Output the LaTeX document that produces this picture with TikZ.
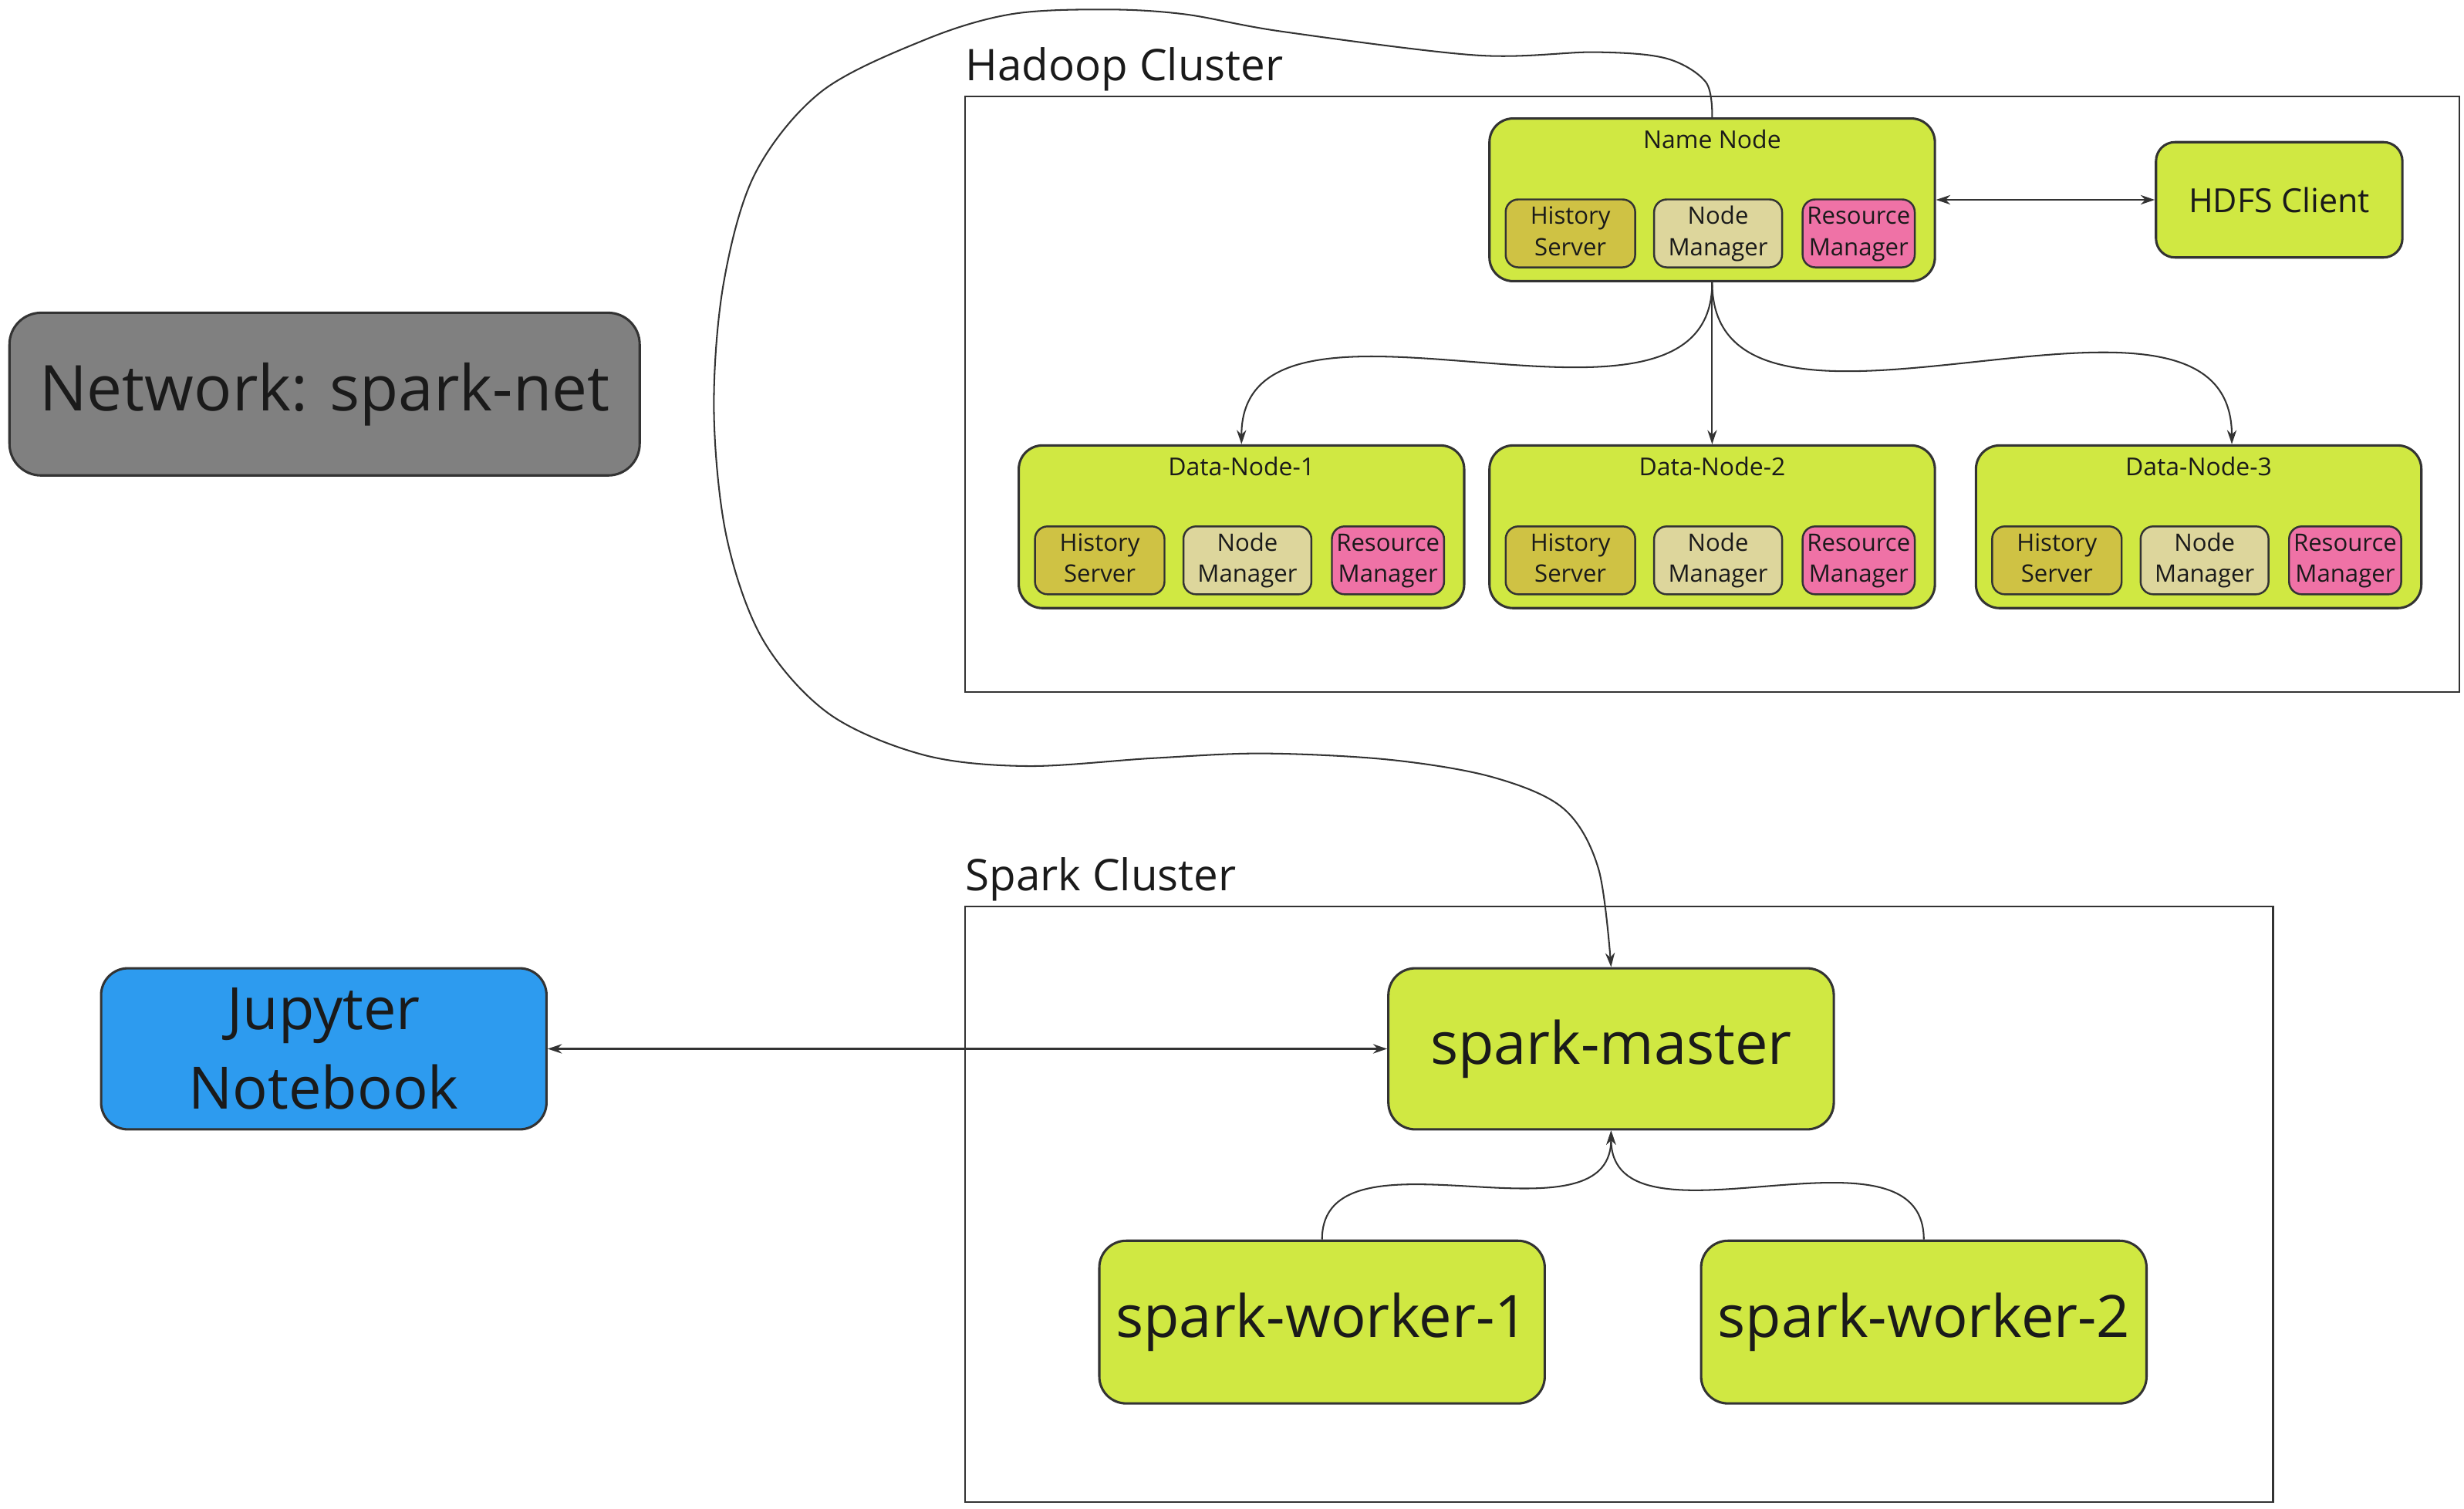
\documentclass[tikz,border=0pt]{standalone}
\usepackage{fontspec}
\setmainfont{Open Sans}
\usetikzlibrary{arrows.meta,calc}
\definecolor{limeg}{HTML}{D0E842}
\definecolor{hsc}{HTML}{CFC244}
\definecolor{nmc}{HTML}{DDD69C}
\definecolor{rmc}{HTML}{EF72A6}
\definecolor{netc}{HTML}{808080}
\definecolor{jupc}{HTML}{2D9BEF}
\definecolor{linec}{HTML}{333333}
\definecolor{txtc}{HTML}{1A1A1A}
\tikzset{
 box/.style={draw=linec, line width=0.75pt, fill=limeg, rounded corners=7.5pt, inner sep=0pt},
 sub/.style={draw=linec, line width=0.6pt, rounded corners=4pt, minimum height=21.5pt, inner sep=0pt, align=center, font=\fontsize{7.6}{10}\selectfont, text=txtc},
 ttl/.style={font=\fontsize{7.8}{9}\selectfont, text=txtc, inner sep=0pt},
 big/.style={font=\fontsize{18.5}{25}\selectfont, text=txtc, align=center},
 frame/.style={draw=linec, line width=0.6pt, inner sep=0pt},
 flabel/.style={font=\fontsize{13.8}{16}\selectfont, text=txtc, inner sep=0pt, anchor=base west},
 conn/.style={draw=linec, line width=0.5pt},
}
\newcommand{\hnode}[4]{%
 \node[box, minimum width=141pt, minimum height=51.5pt] (#1) at (#2,#3) {};
 \node[ttl] (#1-t) at ($(#1.north)+(0,-14)$) {#4};
 \node[sub, fill=hsc, minimum width=41pt] (#1-hs) at ($(#1.north west)+(52,-73.5)$) {History\strut\\Server\strut};
 \node[sub, fill=nmc, minimum width=40.5pt] (#1-nm) at ($(#1.north west)+(145.5,-73.5)$) {Node\strut\\Manager\strut};
 \node[sub, fill=rmc, minimum width=35.5pt] (#1-rm) at ($(#1.north west)+(234.5,-73.5)$) {Resource\strut\\Manager\strut};
}
\begin{document}
\begin{tikzpicture}[x=0.5pt,y=0.5pt,>={Stealth[length=4.5pt,width=3pt]}]
\useasboundingbox (0,0) rectangle (1560,-955.33);
% frames
\node[frame, minimum width=473pt, minimum height=188.5pt] (hc) at (1084,-249.5) {};
\node[flabel] (hcl) at (611,-51) {Hadoop Cluster};
\node[frame, minimum width=414pt, minimum height=188.5pt] (sc) at (1025,-762.5) {};
\node[flabel] (scl) at (611,-564) {Spark Cluster};
% hadoop nodes
\hnode{nn}{1084}{-126.5}{Name Node}
\hnode{dn1}{786}{-333.5}{Data-Node-1}
\hnode{dn2}{1084}{-333.5}{Data-Node-2}
\hnode{dn3}{1392}{-333.5}{Data-Node-3}
\node[box, rounded corners=6pt, minimum width=78pt, minimum height=36.5pt, font=\fontsize{10.5}{12}\selectfont, text=txtc] (hdfs) at (1443,-126.5) {HDFS Client};
% network
\node[box, fill=netc, rounded corners=10pt, minimum width=199.5pt, minimum height=51.5pt, font=\fontsize{20}{24}\selectfont, text=txtc] (net) at (205.5,-249.5) {Network: spark-net};
% spark
\node[box, rounded corners=8.5pt, minimum width=141pt, minimum height=51pt, big] (sm) at (1020,-664) {spark-master};
\node[box, rounded corners=8.5pt, minimum width=141pt, minimum height=51.5pt, big] (sw1) at (837,-837) {spark-worker-1};
\node[box, rounded corners=8.5pt, minimum width=141pt, minimum height=51.5pt, big] (sw2) at (1218,-837) {spark-worker-2};
\node[box, fill=jupc, rounded corners=8.5pt, minimum width=141pt, minimum height=51pt, big] (jn) at (205,-664) {Jupyter\\Notebook};
% connectors
\draw[conn,<->] (nn.east) -- (hdfs.west);
\draw[conn,->] (nn.south) to[out=-90,in=90] (dn1.north);
\draw[conn,->] (nn.south) -- (dn2.north);
\draw[conn,->] (nn.south) to[out=-90,in=90] ($(dn3.north)+(21,0)$);
\draw[conn,<->] (jn.east) -- (sm.west);
\draw[conn,->] (sw1.north) to[out=90,in=-90] (sm.south);
\draw[conn,->] (sw2.north) to[out=90,in=-90] (sm.south);
\draw[conn,->] plot[smooth,tension=0.55] coordinates {(nn.north) (1080,-52) (1055,-37) (1010,-33) (935,-35) (812,-20) (750,-9) (699,-6) (640,-9) (586,-25) (520,-58) (478,-110) (458,-180) (452,-260) (460,-340) (483,-405) (525,-452) (585,-478) (650,-485) (730,-480) (800,-477) (880,-481) (945,-492) (990,-512) (1012,-550) (sm.north)};
\end{tikzpicture}
\end{document}
